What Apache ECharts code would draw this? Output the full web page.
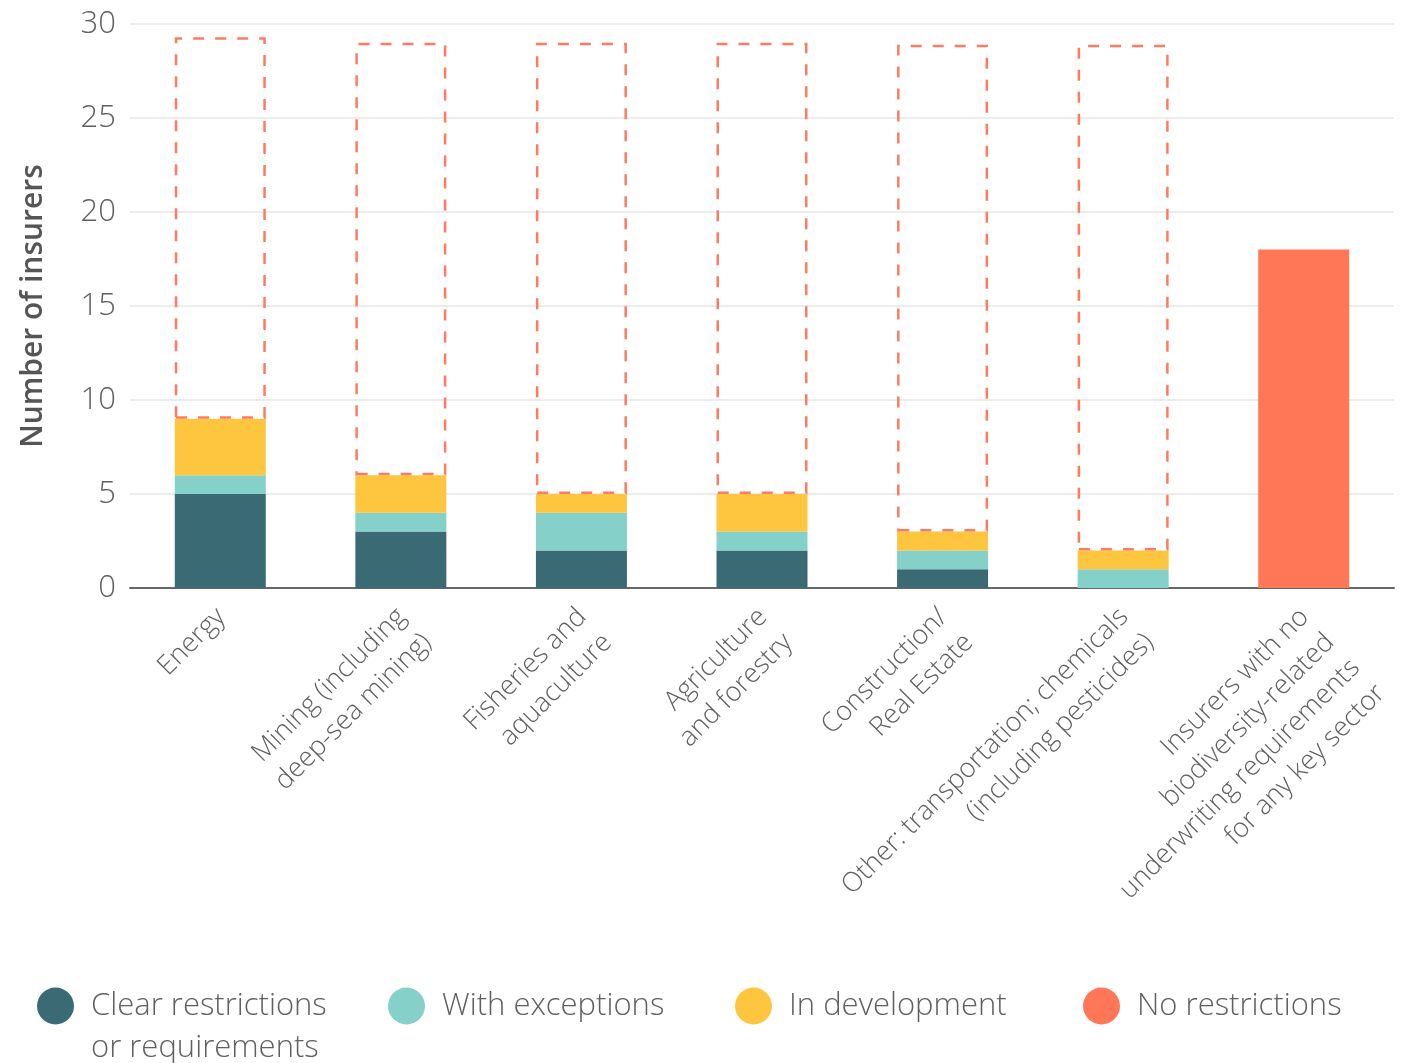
<!DOCTYPE html>
<html>
<head>
<meta charset="utf-8">
<script src="https://cdn.jsdelivr.net/npm/echarts@6/dist/echarts.min.js"></script>
<style>
html,body{margin:0;padding:0;background:#fff;}
#chart{width:1413px;height:1063px;}
</style>
</head>
<body>
<div id="chart"></div>
<script>
const categories = [
  'Energy',
  'Mining (including\ndeep-sea mining)',
  'Fisheries and\naquaculture',
  'Agriculture\nand forestry',
  'Construction/\nReal Estate',
  'Other: transportation; chemicals\n(including pesticides)',
  'Insurers with no\nbiodiversity-related\nunderwriting requirements\nfor any key sector'
];
const seriesNames = ['Clear restrictions or requirements', 'With exceptions', 'In development', 'No restrictions'];
const clearValues = [5, 3, 2, 2, 1, 0, '-'];
const exceptionValues = [1, 1, 2, 1, 1, 1, '-'];
const developmentValues = [3, 2, 1, 2, 1, 1, '-'];
const noRestrictionValues = [20.3, 23, 24, 24, 25.9, 26.9, 18];
const yTicks = { min: 0, max: 30, interval: 5 };

const colors = ['#3A6B75', '#85D0C9', '#FEC63F', '#FF7757'];
const FONT = 'Open Sans';
const TXT = '#606060';

const chart = echarts.init(document.getElementById('chart'), null, { renderer: 'canvas' });

function stackSeries(name, data, color) {
  return {
    name: name, type: 'bar', stack: 'total', barWidth: 91,
    data: data, itemStyle: { color: color }, emphasis: { disabled: true }
  };
}

const noRestrictionData = noRestrictionValues.map(function (v, i) {
  if (i < noRestrictionValues.length - 1) {
    return {
      value: v,
      itemStyle: {
        color: 'rgba(0,0,0,0)',
        borderColor: '#FF7A5F',
        borderWidth: 2.5,
        borderType: [11, 11]
      }
    };
  }
  return { value: v };
});

function legendFor(idx, left, top) {
  return {
    data: [seriesNames[idx]],
    left: left, top: top, padding: 0,
    icon: 'circle', itemWidth: 37, itemHeight: 37,
    selectedMode: false,
    formatter: function (n) { return n === seriesNames[0] ? '\nClear restrictions\nor requirements' : n; },
    textStyle: { fontFamily: FONT, fontWeight: 300, fontSize: 31, color: TXT, lineHeight: 42, padding: [0, 0, 0, 12] }
  };
}

chart.setOption({
  animation: false,
  color: colors,
  grid: { left: 130, right: 19, top: 24, bottom: 1063 - 588, outerBoundsMode: 'none', containLabel: false },
  xAxis: {
    type: 'category', data: categories,
    axisLine: { lineStyle: { color: '#666', width: 2 } },
    axisTick: { show: false },
    axisLabel: {
      interval: 0, rotate: 45, margin: 0, verticalAlign: 'top', padding: [0, 17, 0, 0],
      fontFamily: FONT, fontWeight: 300, fontSize: 27, lineHeight: 36, color: TXT
    }
  },
  yAxis: {
    type: 'value', min: yTicks.min, max: yTicks.max, interval: yTicks.interval,
    name: 'Number of insurers', nameLocation: 'middle', nameRotate: 90, nameGap: 82,
    nameTextStyle: { fontFamily: FONT, fontWeight: 600, fontSize: 30, color: '#555' },
    axisLine: { show: false }, axisTick: { show: false },
    axisLabel: { margin: 14, fontFamily: FONT, fontWeight: 300, fontSize: 31, color: TXT },
    splitLine: { lineStyle: { color: '#E6E6E6', width: 1.5 } }
  },
  legend: [
    legendFor(0, 37, 943),
    legendFor(1, 388, 985),
    legendFor(2, 735, 985),
    legendFor(3, 1083, 985)
  ],
  series: [
    stackSeries(seriesNames[0], clearValues, colors[0]),
    stackSeries(seriesNames[1], exceptionValues, colors[1]),
    stackSeries(seriesNames[2], developmentValues, colors[2]),
    {
      name: seriesNames[3], type: 'bar', stack: 'total', barWidth: 91,
      data: noRestrictionData, itemStyle: { color: colors[3] }, emphasis: { disabled: true }
    }
  ]
});
</script>
</body>
</html>
